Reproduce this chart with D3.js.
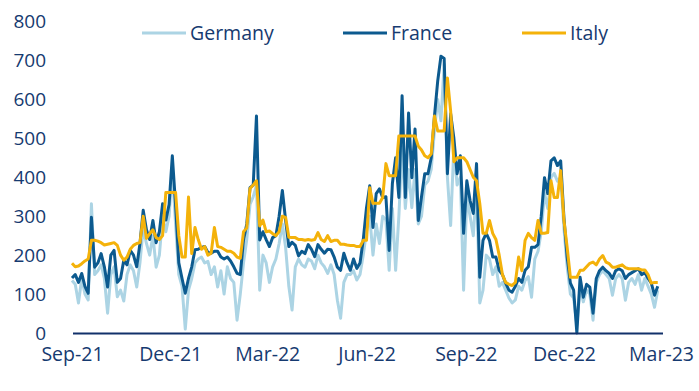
<!DOCTYPE html>
<html><head><meta charset="utf-8">
<script src="https://cdn.jsdelivr.net/npm/d3@7"></script>
<style>
body{margin:0;background:#fff;}
svg text{font-family:"Open Sans",sans-serif;fill:#163a70;}
</style></head><body>
<svg id="c" width="699" height="391"></svg>
<script>
// dates: every 3rd day from 1 Sep 2021
const dates = d3.utcDay.range(new Date(Date.UTC(2021,8,1)), new Date(Date.UTC(2023,1,27)), 3);

const france = [141,150,130,153,120,102,297,169,180,204,
170,118,200,212,130,140,187,175,212,200,
170,230,315,265,240,289,232,260,332,290,
330,455,330,180,140,102,140,170,214,215,
220,222,207,205,210,210,195,190,195,185,
170,153,150,239,280,373,380,557,239,260,
240,222,245,250,300,366,290,222,233,225,
198,210,204,227,215,196,227,215,205,215,
214,195,169,161,205,180,161,190,166,180,
240,322,378,271,358,370,348,350,212,384,
450,348,609,348,565,399,524,289,350,409,
409,450,557,647,711,705,409,563,500,409,
455,256,391,340,307,435,143,238,256,238,
195,195,161,150,128,110,105,120,140,130,
161,170,220,220,227,300,399,358,442,450,
430,442,297,195,128,110,0,143,92,125,
118,51,140,160,169,160,153,140,160,165,
160,140,150,155,160,165,150,155,140,128,
97,120];

const germany = [135,125,77,140,100,85,332,150,160,175,
140,51,150,170,93,110,82,150,175,160,
118,180,270,230,200,250,169,200,300,260,
300,420,280,150,120,10,110,140,180,190,
195,180,184,150,170,118,160,100,170,140,
130,33,100,180,240,330,350,380,110,200,
180,130,170,190,230,280,220,120,59,170,
190,175,169,190,185,165,200,180,170,153,
175,150,84,38,130,150,150,160,136,150,
200,260,300,200,280,230,300,290,161,320,
161,300,480,320,420,322,420,280,300,380,
390,420,520,600,545,690,400,276,480,380,
400,110,350,300,250,380,77,110,200,190,
150,170,120,130,110,90,77,85,120,110,
135,145,92,190,210,260,360,320,400,410,
390,400,270,170,100,90,20,120,80,110,
100,33,130,150,160,150,140,97,140,150,
140,84,130,140,125,150,110,140,120,100,
66,110];

const italy = [179,170,172,178,185,190,238,238,236,232,
226,228,230,232,225,200,187,195,215,225,
230,232,300,243,255,265,245,240,250,361,
361,361,361,250,195,195,349,204,271,240,
215,222,200,205,271,222,220,215,210,210,
205,195,192,260,270,371,380,391,275,290,
260,262,255,250,260,300,297,246,245,245,
240,240,238,240,238,240,258,240,235,250,
235,238,238,228,228,226,225,225,222,222,
238,238,373,333,333,333,348,435,404,404,
404,506,506,506,506,506,506,480,470,455,
450,460,557,519,519,519,655,570,440,450,
450,450,440,420,400,391,333,256,256,289,
256,240,200,150,130,125,122,130,195,160,
238,256,245,238,289,256,256,258,391,348,
348,417,290,220,143,143,143,161,161,170,
179,182,175,190,199,182,178,169,169,172,
175,168,165,165,165,165,162,162,150,128,
130,130];

const seriesNames = ["Germany","France","Italy"];
const seriesColors = ["#acd4e4","#0c5a8f","#f4b20a"];
const xTickDates = ["2021-09-01","2021-12-01","2022-03-01","2022-06-01","2022-09-01","2022-12-01","2023-03-01"];
const yTicks = [0,100,200,300,400,500,600,700,800];

const seriesData = [germany, france, italy];
const n = Math.min(dates.length, france.length, germany.length, italy.length);

const svg = d3.select("#c");
const x = d3.scaleUtc()
  .domain([new Date(Date.UTC(2021,8,1)), new Date(Date.UTC(2023,2,1))])
  .range([72, 661]);
const y = d3.scaleLinear().domain([0,800]).range([333, 21.5]);

// y axis labels
const yAxis = d3.axisLeft(y).tickValues(yTicks).tickSize(0).tickPadding(0).tickFormat(d3.format("d"));
const gy = svg.append("g").attr("transform","translate(46,0)").call(yAxis);
gy.select(".domain").remove();
gy.selectAll("text").attr("font-size",19).attr("fill","#163a70").style("font-family","'Open Sans',sans-serif");

// lines
const line = d3.line().x((d,i)=>x(dates[i])).y(d=>y(d));
seriesData.forEach((s,k)=>{
  svg.append("path").datum(s.slice(0,n))
    .attr("fill","none").attr("stroke",seriesColors[k])
    .attr("stroke-width",3).attr("stroke-linejoin","round")
    .attr("d",line);
});

// x axis
const xAxis = d3.axisBottom(x).tickValues(xTickDates.map(s=>new Date(s+"T00:00:00Z")))
  .tickSize(0).tickPadding(14).tickFormat(d3.utcFormat("%b-%y"));
const gx = svg.append("g").attr("transform","translate(0,333.5)").call(xAxis);
gx.select(".domain").attr("stroke","#12316a").attr("stroke-width",2.2)
  .attr("d",`M${x.range()[0]+1},0H${x.range()[1]+2}`);
gx.selectAll("text").attr("font-size",19.5).attr("fill","#163a70").style("font-family","'Open Sans',sans-serif");

// legend
const legendX = [142, 343, 522];
seriesNames.forEach((name,k)=>{
  const g = svg.append("g").attr("transform",`translate(${legendX[k]},33)`);
  g.append("line").attr("x1",0).attr("x2",44).attr("y1",0).attr("y2",0)
    .attr("stroke",seriesColors[k]).attr("stroke-width",3);
  g.append("text").attr("x",48).attr("y",0).attr("dy","0.35em")
    .attr("font-size",19.5).text(name);
});
</script>
</body></html>
